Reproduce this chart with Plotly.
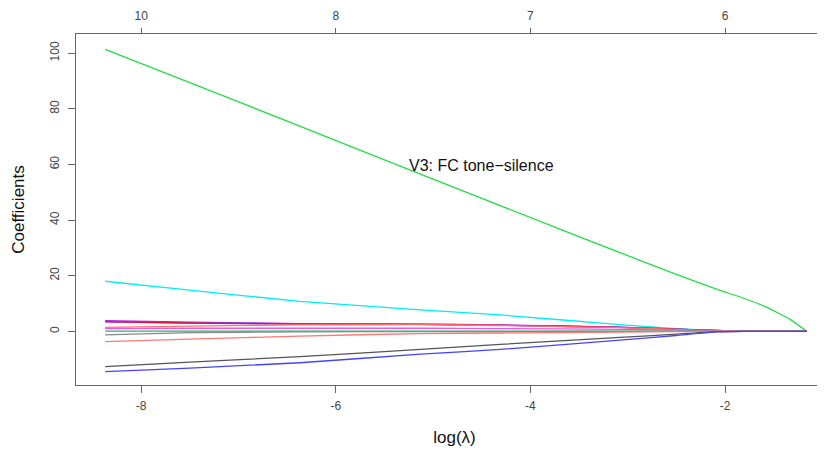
import plotly.graph_objects as go

log_lambda = [-8.37, -7.5, -6.37, -5.13, -4.31, -3.08, -2.5, -2.08, -1.8, -1.57, -1.33, -1.16]

series_names = ["V3: FC tone-silence", "cyan", "purple", "violet", "crimson", "lightred",
                "magenta", "green2", "gray", "salmon", "darkgray", "blue"]
series_colors = ["#22dd44", "#00eeee", "#aa22ee", "#6666ff", "#dd1144", "#ff7070",
                 "#ee55ee", "#22bb66", "#888888", "#ff7777", "#555555", "#4444ff"]

v_green = [101.4, 89.4, 73.8, 56.5, 45.2, 28.3, 20.5, 15.1, 11.8, 8.6, 4.3, 0.0]
v_cyan = [18.0, 14.8, 10.8, 7.7, 5.9, 2.4, 1.0, 0.3, 0.0, 0.0, 0.0, 0.0]
v_purple = [3.8, 3.3, 2.8, 2.6, 2.3, 1.5, 0.8, 0.3, 0.0, 0.0, 0.0, 0.0]
v_violet = [3.5, 3.0, 2.7, 2.5, 2.2, 1.4, 0.8, 0.3, 0.0, 0.0, 0.0, 0.0]
v_crimson = [3.4, 3.0, 2.6, 2.5, 2.2, 1.4, 0.8, 0.2, 0.0, 0.0, 0.0, 0.0]
v_lightred = [1.4, 1.9, 2.3, 2.4, 2.1, 1.3, 0.7, 0.2, 0.0, 0.0, 0.0, 0.0]
v_magenta = [1.0, 1.1, 1.1, 1.1, 1.0, 0.7, 0.4, 0.1, 0.0, 0.0, 0.0, 0.0]
v_green2 = [0.1, 0.1, 0.1, 0.1, 0.1, 0.1, 0.05, 0.0, 0.0, 0.0, 0.0, 0.0]
v_gray = [-1.3, -0.5, -0.2, -0.1, -0.1, 0.0, 0.0, 0.0, 0.0, 0.0, 0.0, 0.0]
v_salmon = [-3.7, -2.8, -1.7, -0.8, -0.6, -0.3, -0.1, 0.0, 0.0, 0.0, 0.0, 0.0]
v_darkgray = [-12.7, -11.1, -9.1, -6.5, -4.7, -2.2, -1.0, -0.1, 0.0, 0.0, 0.0, 0.0]
v_blue = [-14.5, -13.2, -11.3, -8.2, -6.5, -3.2, -1.5, -0.2, 0.0, 0.0, 0.0, 0.0]

all_values = [v_green, v_cyan, v_purple, v_violet, v_crimson, v_lightred,
              v_magenta, v_green2, v_gray, v_salmon, v_darkgray, v_blue]

x_ticks = [-8, -6, -4, -2]
top_tick_pos = [-8, -6, -4, -2]
top_tick_labels = ["10", "8", "7", "6"]
y_ticks = [0, 20, 40, 60, 80, 100]

annot_text = "V3: FC tone\u2212silence"
annot_x, annot_y = -4.5, 59.8

fig = go.Figure()
for name, col, vals in zip(series_names, series_colors, all_values):
    fig.add_trace(go.Scatter(x=log_lambda, y=vals, mode="lines", name=name,
                             line=dict(color=col, width=1.3, shape="spline", smoothing=0.4),
                             showlegend=False))

# invisible trace for top axis
fig.add_trace(go.Scatter(x=[log_lambda[0]], y=[0], xaxis="x2", mode="markers",
                         marker=dict(opacity=0), showlegend=False, hoverinfo="skip"))

font = "Liberation Sans, Arial, sans-serif"
xr = [-8.67, -0.89]
fig.update_layout(
    width=825, height=450,
    margin=dict(l=68, r=0, t=26, b=73),
    paper_bgcolor="white", plot_bgcolor="white",
    font=dict(family=font, color="#333333"),
    xaxis=dict(range=xr, tickvals=x_ticks, ticktext=[str(v) for v in x_ticks],
               automargin=False,
               showgrid=False, zeroline=False, showline=True, linecolor="#666666",
               linewidth=1, mirror=True, ticks="outside", ticklen=7, tickcolor="#666666",
               ticklabelstandoff=3,
               tickfont=dict(size=12, color="#444444"),
               title=dict(text="log(\u03bb)", font=dict(size=17, color="#111111"), standoff=18)),
    xaxis2=dict(range=xr, overlaying="x", side="top", tickvals=top_tick_pos,
                automargin=False,
                ticktext=top_tick_labels, showgrid=False, zeroline=False,
                ticks="outside", ticklen=5, tickcolor="#666666",
                ticklabelstandoff=3,
                tickfont=dict(size=12, color="#444444"), showline=False),
    yaxis=dict(range=[-19.3, 106.9], tickvals=y_ticks, showgrid=False, zeroline=False,
               automargin=False,
               showline=True, linecolor="#666666", linewidth=1, mirror=True,
               ticks="outside", ticklen=7, tickcolor="#666666", tickangle=-90,
               ticklabelstandoff=4,
               tickfont=dict(size=12, color="#444444"),
               title=dict(text="Coefficients", font=dict(size=17, color="#111111"), standoff=19)),
    annotations=[dict(x=annot_x, y=annot_y, xref="x", yref="y", text=annot_text,
                      showarrow=False, font=dict(size=16, color="#111111", family=font))],
)

fig.write_html("out.html")
